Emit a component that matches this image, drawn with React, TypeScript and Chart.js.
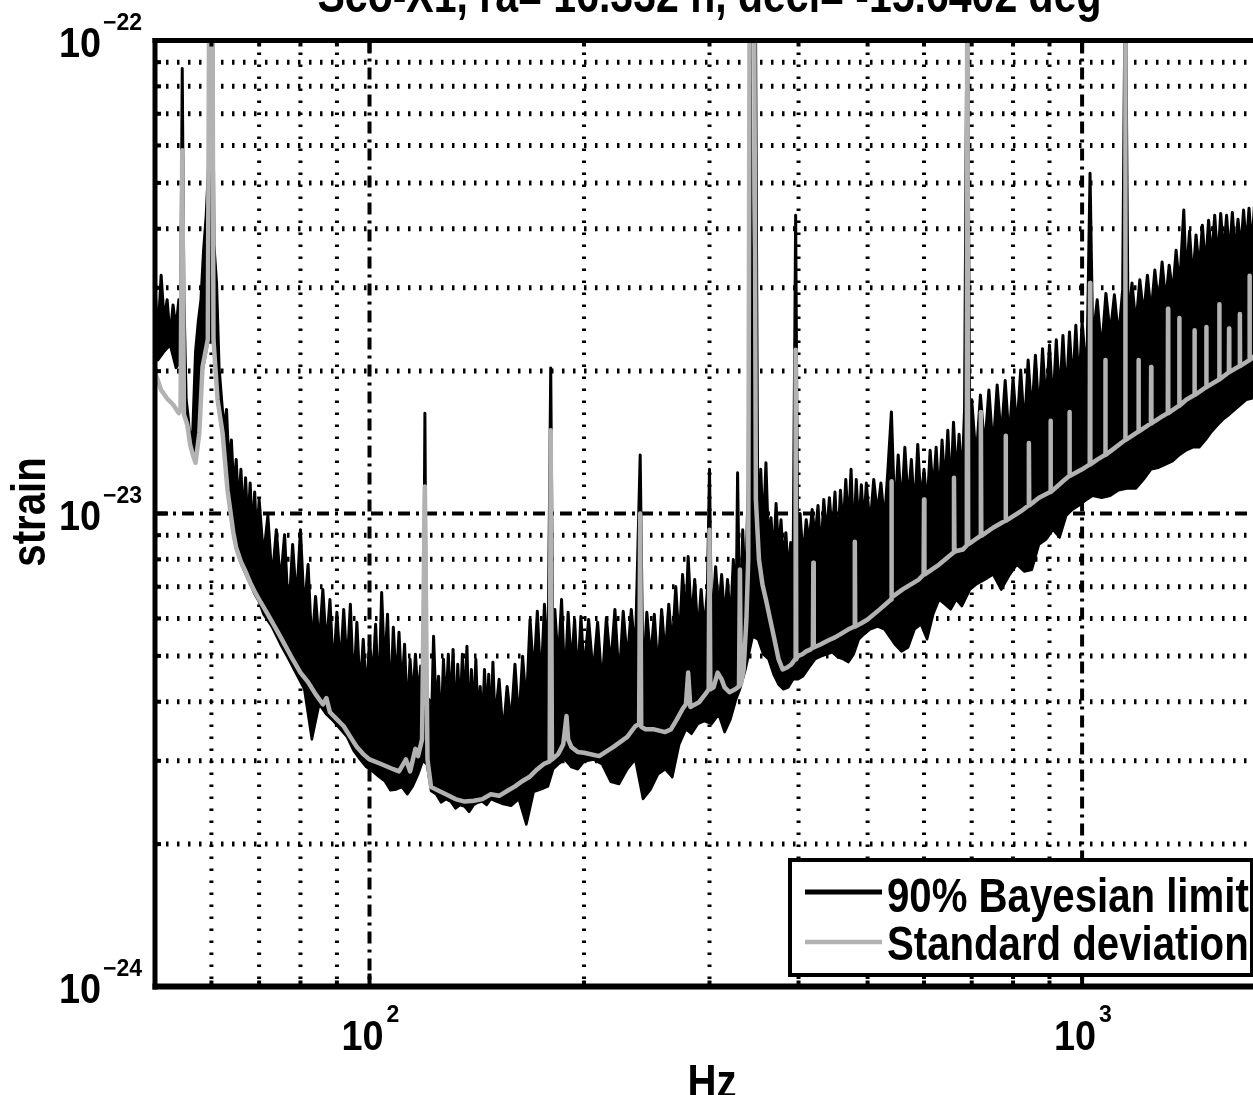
import React, { useEffect, useRef } from "react";
import { Chart, registerables } from "chart.js";

Chart.register(...registerables);

const TITLE = "Sco-X1, ra= 16.332 h, decl= -15.6402 deg";
const X_LABEL = "Hz";
const Y_LABEL = "strain";
const LEGEND_LABELS = ["90% Bayesian limit", "Standard deviation"];

const X_MIN = 50;
const X_MAX = 1800;
const Y_MIN = 1e-24;
const Y_MAX = 1e-22;

const X_TICKS = [100, 1000];
const X_TICK_EXP = ["2", "3"];
const Y_TICKS = [1e-24, 1e-23, 1e-22];
const Y_TICK_EXP = ["\u221224", "\u221223", "\u221222"];
const X_MINOR = [60, 70, 80, 90, 200, 300, 400, 500, 600, 700, 800, 900];
const Y_MINOR = [2e-24, 3e-24, 4e-24, 5e-24, 6e-24, 7e-24, 8e-24, 9e-24, 2e-23, 3e-23, 4e-23, 5e-23, 6e-23, 7e-23, 8e-23, 9e-23];

// strain values below are in units of 1e-24
const UNIT = 1e-24;

// 90% Bayesian limit: noisy trace (upper side of the band)
const BLACK_HZ = [
  50, 50.5, 51, 51.5, 52, 52.5, 53, 53.5, 54, 54.3, 54.6, 54.9, 55.3, 55.7, 56, 56.5, 57, 57.5, 58, 58.5, 59, 59.5, 60, 60.5, 61, 61.5, 62, 62.5, 63, 63.5, 64, 64.5, 65, 65.5, 66, 66.5, 67, 67.5, 68, 68.5, 69, 69.5, 70,
  71, 72, 73, 74, 75, 76, 77, 78, 79, 80, 81, 82, 83, 84, 85, 86, 87, 88, 89, 90, 91, 92, 93, 94, 95, 96, 97, 98, 99, 100,
  101, 102, 103, 104, 105, 106, 107, 108, 109, 110, 111, 112, 113, 114, 115, 116, 117, 118, 118.8, 119.6, 120.4, 121, 122, 123, 124, 125, 126, 127, 128, 129, 130, 131, 132, 133, 134, 135, 136, 137, 138, 139, 140, 141, 142, 143, 144, 145, 146, 147, 148, 149, 150,
  152, 154, 156, 158, 160, 162, 164, 166, 168, 170, 172, 174, 176, 178, 179.6, 181, 182, 184, 186, 188, 190, 192, 194, 196, 198, 200,
  203, 206, 209, 212, 215, 218, 221, 224, 227, 230, 233, 236, 239.8, 242, 245, 248, 251, 254, 257, 260, 263, 266, 269, 272, 275, 278, 280, 283, 286, 289, 292, 295, 298, 300,
  302, 306, 309, 312, 315, 318, 321, 324, 327, 328.5, 331, 334, 337, 340, 342, 345, 348, 351, 354, 357, 360, 363, 366, 369, 372, 375, 378, 381, 384, 387, 390, 393, 396.3, 399, 402, 406, 410, 414, 418, 422, 426, 430, 434, 438, 442, 446, 450, 454, 458, 462, 466, 470, 474, 478, 482, 486, 490, 494, 498,
  504, 510, 516, 522, 528, 534, 540, 546, 552, 558, 564, 570, 576, 582, 588, 594, 600, 606, 612, 618, 624, 630, 636, 642, 648, 654, 660, 666, 672, 678, 684, 690, 696,
  700, 710, 720, 730, 740, 750, 760, 770, 780, 790, 800, 810, 820, 830, 840, 850, 860, 870, 880, 890, 900, 910, 920, 930, 940, 950, 960, 970, 980, 990, 1000,
  1015, 1026, 1035, 1050, 1065, 1080, 1095, 1110, 1125, 1140, 1150, 1160, 1175, 1190, 1205, 1220, 1235, 1250, 1265, 1280, 1295, 1310, 1325, 1340, 1355, 1370, 1389, 1400, 1415, 1430, 1445, 1460, 1475, 1490, 1505, 1520, 1535, 1550, 1565, 1580, 1595, 1610, 1625, 1640, 1655, 1670, 1685, 1700, 1715, 1730, 1745, 1760, 1775, 1790, 1800,
];

const BLACK_VAL = [
  29.7, 24.0, 31.9, 25.5, 28.3, 23.5, 27.6, 24.5, 28.3, 23.0, 87.3, 28.3, 17.4, 15.8, 14.2, 15.0, 22.0, 25.4, 28.3, 36.0, 42.7, 55.8, 300, 36.9, 30.7, 20.4, 17.4, 15.0, 16.6, 12.5, 14.3, 11.1, 13.0, 10.2, 12.4, 9.65, 11.9, 9.3, 11.6, 8.9, 11.1, 8.55, 10.7,
  8.1, 9.9, 7.2, 9.24, 7.1, 9.02, 6.0, 8.6, 6.5, 9.24, 6.2, 7.8, 5.2, 6.68, 5.25, 6.91, 5.2, 6.58, 4.6, 6.18, 4.7, 6.27, 4.7, 6.43, 4.2, 5.89, 4.2, 5.42, 4.1, 5.42,
  4.44, 5.83, 3.97, 6.81, 4.65, 6.12, 3.86, 5.75, 4.33, 5.61, 4.2, 5.29, 3.7, 4.92, 4.0, 5.04, 4.07, 4.76, 3.02, 16.3, 2.95, 4.05, 3.3, 5.5, 3.85, 4.53, 3.44, 4.92, 3.81, 5.04, 3.84, 5.16, 3.5, 4.8, 3.73, 5.04, 3.83, 5.24, 3.45, 4.68, 3.68, 4.92, 3.59, 4.31, 3.5, 4.68, 3.61, 4.57, 3.4, 4.85, 3.62,
  4.46, 3.4, 4.31, 3.6, 4.8, 3.6, 4.99, 3.9, 5.97, 4.5, 6.21, 4.3, 6.43, 4.68, 20.3, 4.2, 6.27, 4.78, 6.58, 4.3, 6.18, 4.71, 5.97, 4.4, 6.06, 4.62,
  5.97, 4.56, 5.89, 4.3, 6.03, 4.74, 6.27, 4.4, 6.21, 4.88, 6.27, 4.99, 13.3, 4.3, 6.18, 4.91, 6.12, 4.6, 6.27, 4.97, 6.43, 5.2, 7.01, 5.3, 7.43, 5.94, 8.11, 5.86, 7.25, 5.5, 6.91, 5.64, 6.91, 12.4,
  5.5, 7.72, 6.2, 7.43, 5.95, 7.25, 5.8, 7.99, 6.2, 12.2, 5.2, 9.24, 6.5, 11.8, 120, 7.99, 120, 7.0, 12.4, 9.0, 12.8, 8.6, 9.8, 8.0, 10.5, 8.3, 9.7, 7.8, 9.11, 7.4, 8.68, 7.5, 42.7, 7.9, 10.0, 8.0, 9.7, 8.7, 10.2, 8.9, 10.4, 8.2, 10.7, 9.0, 10.8, 9.0, 11.1, 8.4, 11.2, 9.2, 11.8, 9.3, 12.4, 8.6, 11.8, 9.2, 11.5, 9.4, 11.6,
  9.4, 11.8, 10.0, 11.6, 9.6, 12.4, 16.4, 9.8, 13.3, 10.2, 13.8, 10.5, 13.0, 10.0, 14.0, 10.5, 12.4, 10.3, 13.6, 11.0, 13.8, 10.6, 14.3, 11.3, 15.0, 11.0, 15.6, 11.8, 14.7, 11.5, 16.6, 150, 12.0,
  17.4, 13.0, 17.8, 13.7, 18.25, 13.6, 18.7, 14.4, 19.1, 14.2, 19.3, 15.0, 20.1, 15.0, 21.1, 16.1, 21.6, 16.0, 22.3, 16.9, 22.7, 16.8, 23.3, 17.6, 23.8, 17.5, 24.2, 18.5, 25.0, 18.3, 25.5,
  19.0, 52.4, 23.0, 28.3, 22.0, 29.2, 23.9, 29.0, 23.5, 29.7, 150, 25.3, 30.7, 25.0, 31.2, 26.2, 31.9, 26.5, 32.7, 27.6, 34.0, 28.0, 33.5, 29.1, 36.0, 30.0, 43.8, 31.2, 39.5, 31.0, 38.8, 32.6, 40.7, 33.0, 41.7, 34.4, 42.7, 34.0, 43.1, 35.2, 42.7, 35.0, 43.3, 35.3, 41.9, 36.0, 43.8, 36.5, 44.2, 36.5, 44.6, 37.3, 45.1, 37.5, 44.9,
];

// 90% Bayesian limit: lower side of the same noisy trace
const BLACK_LOW_HZ = [
  50, 50.5, 51.5, 52.5, 53.5, 54.3, 55.3, 56, 56.5, 57, 57.7, 58.3, 59.3, 60.4, 61.2, 62.2, 63.2, 64.4,
  65, 66, 67, 68, 69, 70,
  71, 73, 75, 77, 79, 81, 83, 85, 87, 89, 91, 93, 95, 97, 99,
  101, 103, 105, 107, 109, 111, 113, 115, 117, 118.8, 120.4, 122, 124, 126, 128, 130, 132, 134, 136, 138, 140, 142, 144, 146, 148, 150,
  154, 158, 162, 166, 170, 174, 178, 181, 184, 188, 192, 196, 200,
  206, 212, 218, 224, 230, 236, 242, 248, 254, 260, 266, 272, 278, 283, 289, 295,
  302, 309, 315, 321, 327, 331, 337, 345, 351, 357, 363, 369, 375, 381, 387, 393, 399, 406, 414, 422, 430, 438, 446, 454, 462, 470, 478, 486, 494,
  504, 516, 528, 546, 558, 570, 582, 594, 606, 618, 630, 642, 654, 666, 678, 696,
  710, 730, 750, 770, 790, 810, 830, 850, 870, 890, 910, 930, 950, 970, 990,
  1015, 1035, 1065, 1095, 1125, 1160, 1190, 1220, 1250, 1280, 1310, 1340, 1370, 1400, 1430, 1460, 1490, 1520, 1550, 1580, 1610, 1640, 1670, 1700, 1730, 1760, 1790, 1800,
];

const BLACK_LOW_VAL = [
  21.5, 21.1, 22.0, 22.7, 20.3, 20.9, 16.0, 14.2, 13.5, 12.9, 14.6, 20.0, 23.0, 23.0, 17.2, 14.6, 11.1, 9.0,
  8.4, 7.85, 7.45, 7.1, 6.75, 6.5,
  6.12, 5.75, 5.29, 4.92, 4.57, 4.25, 3.33, 3.95, 3.76, 3.64, 3.5, 3.37, 3.15, 3.02, 2.91,
  2.85, 2.78, 2.72, 2.6, 2.61, 2.64, 2.55, 2.65, 2.81, 3.0, 2.95, 2.59, 2.55, 2.45, 2.49, 2.46, 2.38, 2.42, 2.4, 2.34, 2.42, 2.45, 2.46, 2.42, 2.49, 2.47,
  2.43, 2.41, 2.49, 2.2, 2.58, 2.61, 2.65, 2.88, 2.95, 3.02, 2.91, 2.88, 2.99,
  3.02, 2.95, 2.71, 2.68, 2.88, 3.02, 2.49, 2.61, 2.81, 2.88, 2.77, 3.25, 3.5, 3.42, 3.59, 3.64,
  3.59, 3.76, 3.45, 3.67, 4.05, 4.25, 4.68, 5.5, 5.42, 5.04, 4.92, 4.57, 4.35, 4.25, 4.29, 4.46, 4.46, 4.53, 4.73, 4.92, 4.99, 5.04, 5.09, 4.97, 4.92, 4.85, 5.04, 5.42, 5.55,
  5.69, 5.77, 5.69, 5.29, 5.11, 5.21, 5.69, 5.83, 5.42, 6.12, 6.58, 6.43, 6.27, 6.58, 6.37, 6.91,
  7.08, 7.25, 7.43, 6.9, 7.39, 7.8, 7.54, 7.6, 8.6, 8.81, 9.24, 8.9, 9.9, 10.2, 10.4,
  10.7, 10.9, 10.8, 10.9, 11.2, 11.3, 11.3, 11.8, 12.4, 12.5, 12.7, 12.9, 13.3, 13.6, 13.8, 13.8, 14.3, 14.9, 15.4, 15.85, 16.2, 16.6, 17.0, 17.4, 17.5, 17.8, 18.0, 18.3,
];

const GRAY_HZ = [
  50, 51, 52, 53, 54, 54.3, 54.6, 54.9, 55.5, 56, 56.5, 57, 57.7, 58.3, 59.3, 59.7, 60.1, 60.4, 61.2, 62.2, 63.2, 64.4,
  65, 66, 67, 68, 69, 70, 72, 74, 76, 78, 80, 82, 84, 86, 87, 88, 90, 92, 94, 96, 98, 100,
  104, 108, 110, 112.5, 114, 116, 117, 118.5, 119.6, 120.6, 122, 124, 128, 132, 136, 140, 144, 148, 152, 156, 160, 164, 168, 172, 176, 179, 179.6, 180.3, 184, 187, 189, 190, 192, 196, 200,
  210, 220, 230, 236, 239, 239.8, 240.6, 244, 250, 260, 265, 270, 275, 278, 280, 282, 290, 296, 299.2, 300, 300.8,
  304, 308, 312, 315, 320, 326, 330, 331, 332, 335, 338, 340, 342, 346, 348.5, 352, 356, 360, 365, 370, 375, 380, 386, 391, 395.5, 396.3, 397.1, 399, 405, 410, 416, 419, 419.6, 420.2,
  430, 440, 450, 460, 470, 479.2, 479.8, 480.4, 490, 500, 520, 539.3, 540, 540.7, 560, 590, 599.2, 600, 600.8, 630, 660, 661, 662, 680, 689, 690, 691, 692,
  720, 721, 722, 750, 780, 781, 782, 820, 841, 842, 843, 870, 902, 903, 904, 940, 959, 960, 961, 1000,
  1025, 1026, 1027, 1050, 1077, 1078, 1079, 1100, 1149, 1149.5, 1150.5, 1151, 1199, 1200, 1201, 1249, 1250, 1251, 1300, 1319, 1320, 1321, 1368, 1369, 1370, 1400, 1437, 1438, 1439, 1493, 1494, 1495, 1557, 1558, 1559, 1600, 1607, 1608, 1609, 1664, 1665, 1666, 1717, 1718, 1719, 1800,
];

const GRAY_VAL = [
  19.9, 18.25, 17.5, 17.0, 16.3, 16.6, 58.6, 16.2, 15.4, 14.0, 13.3, 12.8, 14.8, 20.4, 23.3, 300, 300, 23.3, 17.4, 14.8, 11.2, 9.11,
  8.47, 7.91, 7.54, 7.15, 6.84, 6.58, 6.12, 5.69, 5.29, 4.92, 4.61, 4.4, 4.15, 3.95, 4.07, 3.8, 3.67, 3.55, 3.37, 3.21, 3.1, 3.02,
  2.95, 2.88, 2.85, 3.02, 2.85, 3.18, 3.07, 3.33, 11.4, 3.02, 2.64, 2.61, 2.55, 2.49, 2.46, 2.47, 2.49, 2.55, 2.53, 2.59, 2.65, 2.72, 2.78, 2.88, 2.96, 2.99, 15.0, 3.02, 3.1, 3.25, 3.73, 3.33, 3.21, 3.13, 3.12,
  3.07, 3.21, 3.37, 3.55, 3.59, 10.0, 3.54, 3.5, 3.5, 3.45, 3.5, 3.67, 3.86, 3.95, 4.61, 3.9, 3.99, 4.15, 4.25, 9.24, 4.25,
  4.29, 4.61, 4.46, 4.29, 4.19, 4.25, 4.31, 7.61, 4.35, 4.68, 5.97, 7.99, 300, 300, 10.7, 7.99, 7.08, 6.58, 5.97, 5.42, 4.92, 4.68, 4.73, 4.8, 4.92, 22.2, 4.92, 4.99, 5.04, 5.11, 5.16, 5.21, 7.87, 5.21,
  5.29, 5.39, 5.47, 5.58, 5.69, 5.77, 8.72, 5.77, 5.86, 5.97, 6.27, 6.58, 11.7, 6.65, 6.91, 7.25, 7.43, 10.7, 7.43, 7.8, 8.27, 11.9, 8.31, 8.39, 8.56, 300, 300, 8.6,
  8.97, 16.4, 8.97, 9.33, 9.65, 14.6, 9.65, 10.1, 10.4, 14.1, 10.4, 10.8, 11.1, 15.7, 11.1, 11.7, 12.0, 16.4, 12.0, 12.4,
  12.7, 30.7, 12.7, 13.0, 13.3, 21.1, 13.3, 13.6, 14.3, 300, 300, 14.3, 14.9, 21.1, 14.9, 15.5, 20.4, 15.5, 16.1, 16.3, 27.1, 16.3, 16.9, 25.9, 16.9, 17.4, 17.8, 24.4, 17.8, 18.5, 24.8, 18.5, 19.2, 27.7, 19.2, 19.8, 19.9, 24.6, 19.9, 20.5, 26.4, 20.5, 21.1, 31.8, 21.1, 22.4,
];

const BLACK = "#000000";
const GRAY = "#b2b2b2";
const FONT = '"Liberation Sans", Arial, Helvetica, sans-serif';

// canvas is shifted up so that the title is cut like in the reference
const OFF = 40;
const CW = 1300;
const CH = 1135;

const toPoints = (hz: number[], val: number[]) => hz.map((f, i) => ({ x: f, y: val[i] * UNIT }));

function drawText(ctx: CanvasRenderingContext2D, text: string, x: number, y: number, size: number, align: CanvasTextAlign, sx: number, rot = 0) {
  ctx.save();
  ctx.translate(x, y);
  if (rot) ctx.rotate(rot);
  ctx.scale(sx, 1);
  ctx.font = `bold ${size}px ${FONT}`;
  ctx.textAlign = align;
  ctx.textBaseline = "alphabetic";
  ctx.fillText(text, 0, 0);
  ctx.restore();
}

const decor = {
  id: "decor",
  beforeDatasetsDraw(chart: any) {
    const { ctx, chartArea: a, scales } = chart;
    const xs = scales.x;
    const ys = scales.y;
    const seg = (x1: number, y1: number, x2: number, y2: number) => {
      ctx.beginPath();
      ctx.moveTo(x1, y1);
      ctx.lineTo(x2, y2);
      ctx.stroke();
    };
    ctx.save();
    ctx.beginPath();
    ctx.rect(a.left, a.top, a.right - a.left, a.bottom - a.top);
    ctx.clip();
    ctx.strokeStyle = BLACK;
    ctx.lineCap = "butt";
    ctx.lineWidth = 4;
    ctx.setLineDash([2.5, 9.5]);
    for (const v of X_MINOR) {
      const p = xs.getPixelForValue(v);
      seg(p, a.top, p, a.bottom);
    }
    ctx.lineWidth = 5;
    ctx.setLineDash([2.5, 8.5]);
    for (const v of Y_MINOR) {
      const p = ys.getPixelForValue(v);
      seg(a.left, p, a.right, p);
    }
    ctx.lineWidth = 4;
    ctx.setLineDash([12, 6, 3, 6]);
    for (const v of X_TICKS) {
      const p = xs.getPixelForValue(v);
      seg(p, a.top, p, a.bottom);
    }
    for (const v of Y_TICKS) {
      const p = ys.getPixelForValue(v);
      seg(a.left, p, a.right, p);
    }
    ctx.restore();
  },
  afterDraw(chart: any) {
    const { ctx, chartArea: a, scales } = chart;
    const xs = scales.x;
    const ys = scales.y;
    const seg = (x1: number, y1: number, x2: number, y2: number) => {
      ctx.beginPath();
      ctx.moveTo(x1, y1);
      ctx.lineTo(x2, y2);
      ctx.stroke();
    };
    ctx.save();
    ctx.setLineDash([]);
    ctx.strokeStyle = BLACK;
    ctx.fillStyle = BLACK;
    // ticks (inward)
    ctx.lineWidth = 4;
    for (const v of X_MINOR) {
      const p = xs.getPixelForValue(v);
      seg(p, a.bottom, p, a.bottom - 6);
      seg(p, a.top, p, a.top + 6);
    }
    for (const v of X_TICKS) {
      const p = xs.getPixelForValue(v);
      seg(p, a.bottom, p, a.bottom - 13);
      seg(p, a.top, p, a.top + 13);
    }
    for (const v of Y_MINOR) {
      const p = ys.getPixelForValue(v);
      seg(a.left, p, a.left + 6, p);
    }
    for (const v of Y_TICKS) {
      const p = ys.getPixelForValue(v);
      seg(a.left, p, a.left + 13, p);
    }
    // frame
    ctx.lineWidth = 5;
    seg(a.left, a.top - 2.5, a.left, a.bottom + 3);
    seg(a.left - 2.5, a.top, CW, a.top);
    ctx.lineWidth = 6;
    seg(a.left - 2.5, a.bottom, CW, a.bottom);

    // title (cut at the top like the reference)
    drawText(ctx, TITLE, (a.left + a.right) / 2, OFF + 12, 50, "center", 0.82);

    // tick labels
    Y_TICKS.forEach((v, i) => {
      const p = ys.getPixelForValue(v);
      drawText(ctx, "10", 101, p + 16, 42, "right", 0.9);
      drawText(ctx, Y_TICK_EXP[i], 103, p - 11, 23, "left", 1);
    });
    X_TICKS.forEach((v, i) => {
      const p = xs.getPixelForValue(v);
      drawText(ctx, "10", p + 14, OFF + 1050, 42, "right", 0.9);
      drawText(ctx, X_TICK_EXP[i], p + 17, OFF + 1022, 23, "left", 1);
    });

    // axis titles
    drawText(ctx, X_LABEL, 712, OFF + 1098, 49, "center", 0.82);
    drawText(ctx, Y_LABEL, 45, OFF + 512, 49, "center", 0.82, -Math.PI / 2);

    // legend
    const L = 790;
    const R = 1252;
    const T = OFF + 860;
    const B = OFF + 975;
    ctx.fillStyle = "#ffffff";
    ctx.fillRect(L, T, R - L, B - T);
    ctx.lineWidth = 4;
    ctx.strokeStyle = BLACK;
    ctx.strokeRect(L, T, R - L, B - T);
    ctx.lineWidth = 5;
    seg(805, OFF + 892, 882, OFF + 892);
    ctx.strokeStyle = GRAY;
    ctx.lineWidth = 4.5;
    seg(805, OFF + 942, 882, OFF + 942);
    ctx.fillStyle = BLACK;
    drawText(ctx, LEGEND_LABELS[0], 887, OFF + 912, 49, "left", 0.82);
    drawText(ctx, LEGEND_LABELS[1], 887, OFF + 960, 49, "left", 0.82);
    ctx.restore();
  },
};

export default function App() {
  const ref = useRef<HTMLCanvasElement | null>(null);
  useEffect(() => {
    if (!ref.current) return;
    const chart = new Chart(ref.current, {
      type: "line",
      data: {
        datasets: [
          {
            label: LEGEND_LABELS[0],
            data: toPoints(BLACK_HZ, BLACK_VAL),
            borderColor: BLACK,
            backgroundColor: BLACK,
            borderWidth: 3,
            pointRadius: 0,
            tension: 0,
            borderJoinStyle: "round",
            fill: 1,
            order: 3,
          },
          {
            label: LEGEND_LABELS[0] + " (low side)",
            data: toPoints(BLACK_LOW_HZ, BLACK_LOW_VAL),
            borderColor: BLACK,
            borderWidth: 2.5,
            pointRadius: 0,
            tension: 0,
            borderJoinStyle: "round",
            fill: false,
            order: 2,
          },
          {
            label: LEGEND_LABELS[1],
            data: toPoints(GRAY_HZ, GRAY_VAL),
            borderColor: GRAY,
            borderWidth: 4.5,
            pointRadius: 0,
            tension: 0,
            borderJoinStyle: "round",
            fill: false,
            order: 1,
          },
        ],
      },
      options: {
        animation: false,
        responsive: false,
        events: [],
        layout: { padding: { left: 155, right: 36, top: 80.5, bottom: 108.5 } },
        plugins: {
          legend: { display: false },
          tooltip: { enabled: false },
          title: { display: false },
        },
        scales: {
          x: {
            type: "logarithmic",
            min: X_MIN,
            max: X_MAX,
            ticks: { display: false },
            grid: { display: false },
            border: { display: false },
            afterFit: (s: any) => {
              s.height = 0;
            },
          },
          y: {
            type: "logarithmic",
            min: Y_MIN,
            max: Y_MAX,
            ticks: { display: false },
            grid: { display: false },
            border: { display: false },
            afterFit: (s: any) => {
              s.width = 0;
            },
          },
        },
      } as any,
      plugins: [decor],
    });
    return () => chart.destroy();
  }, []);
  return (
    <canvas
      ref={ref}
      width={CW}
      height={CH}
      style={{ position: "fixed", left: 0, top: -OFF, display: "block" }}
    />
  );
}
